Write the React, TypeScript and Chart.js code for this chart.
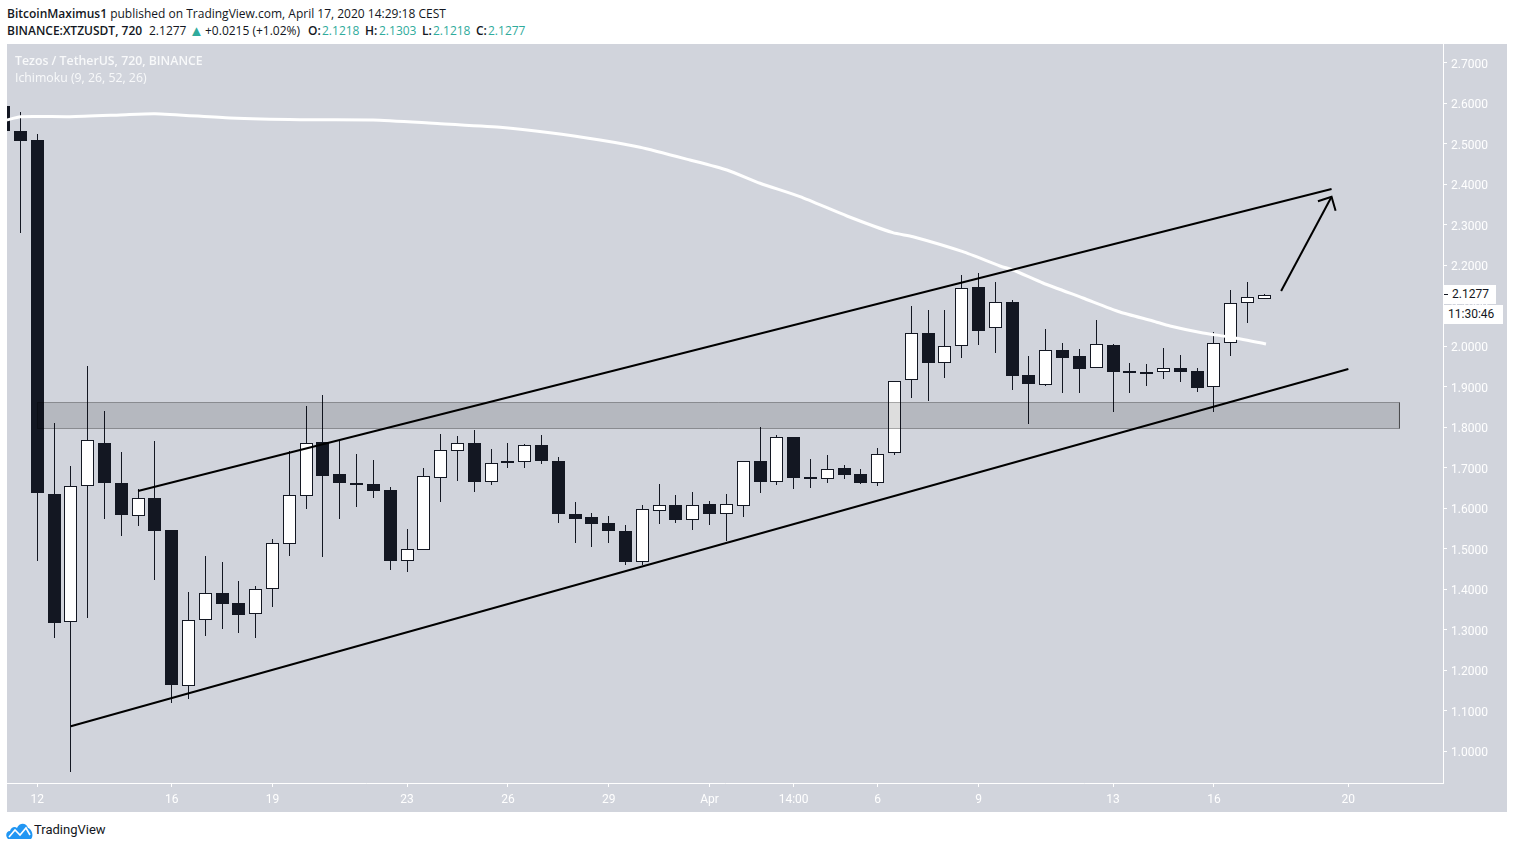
import React, { useEffect, useRef } from "react";
import { Chart, registerables } from "chart.js";

Chart.register(...registerables);

// Candles, oldest first. Index -1 is the bar cut off at the left edge.
const firstCandleIndex = -1;
const opens = [2.5938, 2.5321, 2.5099, 1.6358, 1.319, 1.6548, 1.7617, 1.663, 1.5807, 1.6259, 1.5469, 1.161, 1.324, 1.3914, 1.3667, 1.3388, 1.4005, 1.5131, 1.6316, 1.7642, 1.6852, 1.6635, 1.6605, 1.6457, 1.4711, 1.4983, 1.676, 1.7427, 1.7617, 1.6662, 1.7173, 1.7156, 1.7568, 1.7173, 1.5864, 1.579, 1.5642, 1.5444, 1.4686, 1.5946, 1.6086, 1.5723, 1.6111, 1.5872, 1.6069, 1.7173, 1.6647, 1.7765, 1.6778, 1.6736, 1.7, 1.6852, 1.6637, 1.7363, 1.9165, 2.0333, 1.9585, 2.0005, 2.1469, 2.0449, 2.1099, 1.9296, 1.9057, 1.9914, 1.9765, 1.9477, 2.0037, 1.9395, 1.937, 1.9363, 1.9469, 1.9388, 1.8993, 2.0079, 2.1067, 2.1218];
const highs = [2.5938, 2.579, 2.5247, 1.8119, 1.7049, 1.9519, 1.8407, 1.7395, 1.6474, 1.7667, 1.5469, 1.3938, 1.4827, 1.4679, 1.421, 1.4086, 1.5247, 1.742, 1.8531, 1.8802, 1.7691, 1.7346, 1.7198, 1.6523, 1.5494, 1.7, 1.784, 1.779, 1.7938, 1.7469, 1.7617, 1.7593, 1.7815, 1.7272, 1.616, 1.5889, 1.5815, 1.5593, 1.6086, 1.6605, 1.6333, 1.6407, 1.6185, 1.6358, 1.7165, 1.8012, 1.7815, 1.7765, 1.7222, 1.7321, 1.7074, 1.6975, 1.7494, 1.9141, 2.1, 2.0901, 2.0901, 2.1765, 2.1815, 2.1593, 2.1148, 1.9765, 2.0432, 2.0086, 1.9938, 2.0654, 2.0062, 1.9593, 1.9568, 1.9963, 1.979, 1.9469, 2.0358, 2.1395, 2.1593, 2.1303];
const lows = [2.5321, 2.281, 1.4711, 1.281, 0.9501, 1.3304, 1.5748, 1.5328, 1.5575, 1.4242, 1.1205, 1.1304, 1.2859, 1.3032, 1.2933, 1.281, 1.3575, 1.4835, 1.5988, 1.481, 1.5748, 1.6044, 1.6267, 1.4481, 1.444, 1.4983, 1.6168, 1.6686, 1.6415, 1.6588, 1.7007, 1.7007, 1.7106, 1.5642, 1.5156, 1.5057, 1.5156, 1.4605, 1.4598, 1.5617, 1.5642, 1.5469, 1.5593, 1.5198, 1.579, 1.6383, 1.6588, 1.6481, 1.6506, 1.6637, 1.6728, 1.6605, 1.6556, 1.7321, 1.8728, 1.8662, 1.923, 1.9723, 2.0044, 1.9847, 1.8933, 1.8094, 1.9032, 1.8859, 1.8859, 1.9477, 1.839, 1.8859, 1.9032, 1.9205, 1.9131, 1.8884, 1.839, 1.9773, 2.058, 2.1218];
const closes = [2.5321, 2.5081, 1.639, 1.318, 1.6548, 1.7684, 1.6637, 1.5847, 1.6252, 1.5452, 1.1649, 1.324, 1.3906, 1.3649, 1.3378, 1.4005, 1.5141, 1.6326, 1.761, 1.6802, 1.6637, 1.6605, 1.644, 1.4711, 1.4993, 1.6795, 1.7437, 1.761, 1.6662, 1.7116, 1.7131, 1.756, 1.7173, 1.5872, 1.5748, 1.5625, 1.5452, 1.4686, 1.598, 1.6079, 1.5723, 1.6079, 1.5872, 1.6104, 1.7165, 1.6662, 1.7758, 1.676, 1.6758, 1.6968, 1.6835, 1.6637, 1.7338, 1.9141, 2.0326, 1.96, 2.0005, 2.1437, 2.039, 2.1091, 1.9279, 1.9081, 1.9906, 1.9723, 1.9452, 2.0054, 1.9378, 1.9346, 1.9351, 1.9462, 1.9378, 1.8983, 2.0079, 2.1067, 2.1215, 2.1277];

// Moving-average line as (candle index, price).
const maIndex = [-0.8, 0, 2.95, 5.93, 8, 12.47, 16.63, 20.98, 24.55, 28.53, 31.5, 34.48, 36.86, 39.83, 42.03, 44, 46.38, 49.17, 51.9, 53.1, 56.07, 58.27, 59.05, 60.83, 63.21, 65.41, 67.37, 68.39, 70.35, 71.96, 74.1];
const maValue = [2.5593, 2.5674, 2.5674, 2.5716, 2.5748, 2.5642, 2.56, 2.5593, 2.5511, 2.5412, 2.5279, 2.5099, 2.4919, 2.4605, 2.4358, 2.403, 2.3699, 2.3222, 2.281, 2.2711, 2.2341, 2.1988, 2.1889, 2.1568, 2.1198, 2.0852, 2.063, 2.0506, 2.0333, 2.0235, 2.0062];

// Drawings on the chart.
const upperChannelX = [7, 78];
const upperChannelY = [1.6432, 2.3889];
const lowerChannelX = [3, 79];
const lowerChannelY = [1.0622, 1.9444];
const arrowShaftX = [75, 78];
const arrowShaftY = [2.137, 2.3699];
const arrowHeadX = [77.19, 78, 78.24];
const arrowHeadY = [2.3585, 2.3699, 2.3353];
const zoneX = [1.017, 82.04];
const zoneY = [1.8617, 1.7975];

// Axes.
const priceTicks = [1.0, 1.1, 1.2, 1.3, 1.4, 1.5, 1.6, 1.7, 1.8, 1.9, 2.0, 2.1, 2.2, 2.3, 2.4, 2.5, 2.6, 2.7];
const timeTickIndex = [1, 9, 15, 23, 29, 35, 41, 46, 51, 57, 65, 71, 79];
const timeTickLabels = ["12", "16", "19", "23", "26", "29", "Apr", "14:00", "6", "9", "13", "16", "20"];

const DARK = "#131722";
const BG = "#d1d4dc";
const TEAL = "#2fab9c";
const UI_FONT = '"Open Sans", sans-serif';

const xy = (xs: number[], ys: number[]) => xs.map((x, i) => ({ x, y: ys[i] }));

const snapBars = {
  id: "snapBars",
  afterDatasetsUpdate(chart: any) {
    chart.getSortedVisibleDatasetMetas().forEach((meta: any) => {
      if (meta.type !== "bar") return;
      meta.data.forEach((el: any, i: number) => {
        el.x = Math.floor(el.x) + 0.5;
        const top = Math.round(Math.min(el.y, el.base));
        let bottom = Math.round(Math.max(el.y, el.base));
        if (meta.order === 3) {
          // Thin bodies keep a visible outline: a white body needs room for its fill.
          const minBody = closes[i] >= opens[i] ? 4 : 2;
          if (bottom - top < minBody) bottom = top + minBody;
        }
        el.y = top;
        el.base = bottom;
        el.height = bottom - top;
      });
    });
  },
};

function TickLine(props: { label: string; top: number; width: number; height: number; pad: number }) {
  return (
    <div
      style={{
        position: "absolute",
        left: 1444,
        top: props.top,
        width: props.width,
        height: props.height,
        background: "#fff",
        color: "#131722",
        font: "12px Roboto, sans-serif",
        lineHeight: props.height + "px",
        boxSizing: "border-box",
        paddingLeft: props.pad,
        whiteSpace: "nowrap",
      }}
    >
      {props.label}
    </div>
  );
}

export default function App() {
  const ref = useRef<HTMLCanvasElement | null>(null);

  useEffect(() => {
    const canvas = ref.current;
    if (!canvas) return;
    const idx = opens.map((_, i) => i + firstCandleIndex);
    const lineBase = { type: "line", pointRadius: 0, pointHoverRadius: 0, tension: 0, fill: false };
    const chart = new Chart(canvas, {
      type: "bar",
      data: {
        datasets: [
          { ...lineBase, data: xy(upperChannelX, upperChannelY), borderColor: "#000", borderWidth: 2, order: 0 },
          { ...lineBase, data: xy(lowerChannelX, lowerChannelY), borderColor: "#000", borderWidth: 2, order: 0 },
          { ...lineBase, data: xy(arrowShaftX, arrowShaftY), borderColor: "#000", borderWidth: 2, order: 0 },
          { ...lineBase, data: xy(arrowHeadX, arrowHeadY), borderColor: "#000", borderWidth: 2, order: 0 },
          {
            ...lineBase,
            data: xy(maIndex, maValue),
            borderColor: "#ffffff",
            borderWidth: 3,
            tension: 0.2,
            borderCapStyle: "butt",
            order: 1,
          },
          {
            ...lineBase,
            data: xy(zoneX, [zoneY[0], zoneY[0]]),
            borderWidth: 0,
            borderColor: "rgba(0,0,0,0)",
            backgroundColor: "rgba(0,0,0,0.135)",
            fill: { value: zoneY[1] },
            order: 2,
          },
          {
            ...lineBase,
            data: xy(
              [zoneX[0], zoneX[1], zoneX[1], zoneX[0], zoneX[0]],
              [zoneY[0], zoneY[0], zoneY[1], zoneY[1], zoneY[0]]
            ),
            borderColor: "rgba(0,0,0,0.3)",
            borderWidth: 1,
            order: 2,
          },
          {
            type: "bar",
            data: idx.map((x, i) => ({ x, y: [opens[i], closes[i]] })),
            backgroundColor: opens.map((o, i) => (closes[i] >= o ? "#ffffff" : DARK)),
            borderColor: DARK,
            borderWidth: 1,
            borderSkipped: false,
            barThickness: 13,
            grouped: false,
            inflateAmount: 0,
            order: 3,
          },
          {
            type: "bar",
            data: idx.map((x, i) => ({ x, y: [lows[i], highs[i]] })),
            backgroundColor: DARK,
            borderWidth: 0,
            barThickness: 1,
            grouped: false,
            inflateAmount: 0,
            order: 4,
          },
        ] as any,
      },
      options: {
        responsive: false,
        animation: false,
        devicePixelRatio: 1,
        layout: { padding: 0 },
        plugins: { legend: { display: false }, tooltip: { enabled: false } },
        events: [],
        scales: {
          x: {
            type: "linear",
            offset: false,
            min: -0.797,
            max: 84.63,
            grid: {
              display: true,
              offset: false,
              drawOnChartArea: false,
              drawTicks: true,
              tickLength: 4,
              color: "#ffffff",
            },
            border: { display: true, color: "#ffffff", width: 1 },
            ticks: {
              autoSkip: false,
              maxRotation: 0,
              color: "#ffffff",
              padding: 6,
              font: { family: "Roboto, sans-serif", size: 12 },
              callback: (v: any) => {
                const k = timeTickIndex.indexOf(Number(v));
                return k >= 0 ? timeTickLabels[k] : "";
              },
            },
            afterBuildTicks: (s: any) => {
              s.ticks = timeTickIndex.map((value) => ({ value }));
            },
            afterFit: (s: any) => {
              s.height = 29;
              s.paddingLeft = 0;
              s.paddingRight = 0;
            },
          },
          y: {
            type: "linear",
            position: "right",
            min: 0.9222,
            max: 2.7469,
            grid: { display: true, drawOnChartArea: false, drawTicks: true, tickLength: 4, color: "#ffffff" },
            border: { display: true, color: "#ffffff", width: 1 },
            ticks: {
              color: "#ffffff",
              padding: 4,
              labelOffset: 2,
              font: { family: "Roboto, sans-serif", size: 12 },
              callback: (v: any) => Number(v).toFixed(4),
            },
            afterBuildTicks: (s: any) => {
              s.ticks = priceTicks.map((value) => ({ value }));
            },
            afterFit: (s: any) => {
              s.width = 64;
              s.paddingTop = 0;
              s.paddingBottom = 0;
            },
          },
        },
      } as any,
      plugins: [snapBars],
    });
    return () => chart.destroy();
  }, []);

  const abs = (left: number, top: number): React.CSSProperties => ({
    position: "absolute",
    left,
    top,
    whiteSpace: "nowrap",
  });
  const bold = (left: number, text: string, color?: string) => (
    <span style={{ ...abs(left, 22), lineHeight: "17px", fontWeight: 600, color }}>{text}</span>
  );
  const plain = (left: number, text: string, color?: string) => (
    <span style={{ ...abs(left, 22), lineHeight: "17px", color }}>{text}</span>
  );

  return (
    <div
      style={{
        position: "absolute",
        left: 0,
        top: 0,
        width: 1514,
        height: 849,
        overflow: "hidden",
        background: "#fff",
        font: `12px ${UI_FONT}`,
        color: "#131722",
      }}
    >
      <div style={{ ...abs(7, 5), lineHeight: "17px" }}>
        <b style={{ fontWeight: 600 }}>BitcoinMaximus1</b> published on TradingView.com, April 17, 2020 14:29:18 CEST
      </div>
      {bold(7, "BINANCE:XTZUSDT, 720")}
      {plain(149, "2.1277")}
      <span style={{ ...abs(189, 22), lineHeight: "17px", fontSize: 15, color: TEAL }}>▲</span>
      {plain(205, "+0.0215 (+1.02%)")}
      {bold(308, "O:")}
      {plain(322, "2.1218", TEAL)}
      {bold(365, "H:")}
      {plain(379, "2.1303", TEAL)}
      {bold(422, "L:")}
      {plain(433, "2.1218", TEAL)}
      {bold(476, "C:")}
      {plain(488, "2.1277", TEAL)}

      <canvas
        ref={ref}
        width={1500}
        height={768}
        style={{ position: "absolute", left: 7, top: 44, width: 1500, height: 768, background: BG, display: "block" }}
      />

      <div style={{ ...abs(15, 52), font: `600 12.3px ${UI_FONT}`, color: "#f8f9fa", lineHeight: "17px" }}>
        Tezos / TetherUS, 720, BINANCE
      </div>
      <div style={{ ...abs(15, 69), font: `12.3px ${UI_FONT}`, color: "#f8f9fa", lineHeight: "17px" }}>
        Ichimoku (9, 26, 52, 26)
      </div>

      <TickLine label="2.1277" top={285} width={52} height={19} pad={8} />
      <TickLine label="11:30:46" top={305} width={59} height={19} pad={4} />
      <div style={{ position: "absolute", left: 1444, top: 294, width: 4, height: 1, background: "#131722" }} />

      <svg style={{ position: "absolute", left: 6, top: 822 }} width={27} height={17} viewBox="0 0 27 17">
        <path d="M2 17 C-1 14 0 9 4 9 C5 5 9 4 11 6 C13 1 20 0 22 6 C26 7 28 14 25 17 Z" fill="#2196f3" />
        <path d="M3 15 L9 8 L14 13 L20 6 L24 13" fill="none" stroke="#ffffff" strokeWidth={1.6} />
      </svg>
      <div style={{ ...abs(34, 821), font: "13px Roboto, sans-serif", lineHeight: "18px", color: "#131722" }}>
        TradingView
      </div>
    </div>
  );
}
